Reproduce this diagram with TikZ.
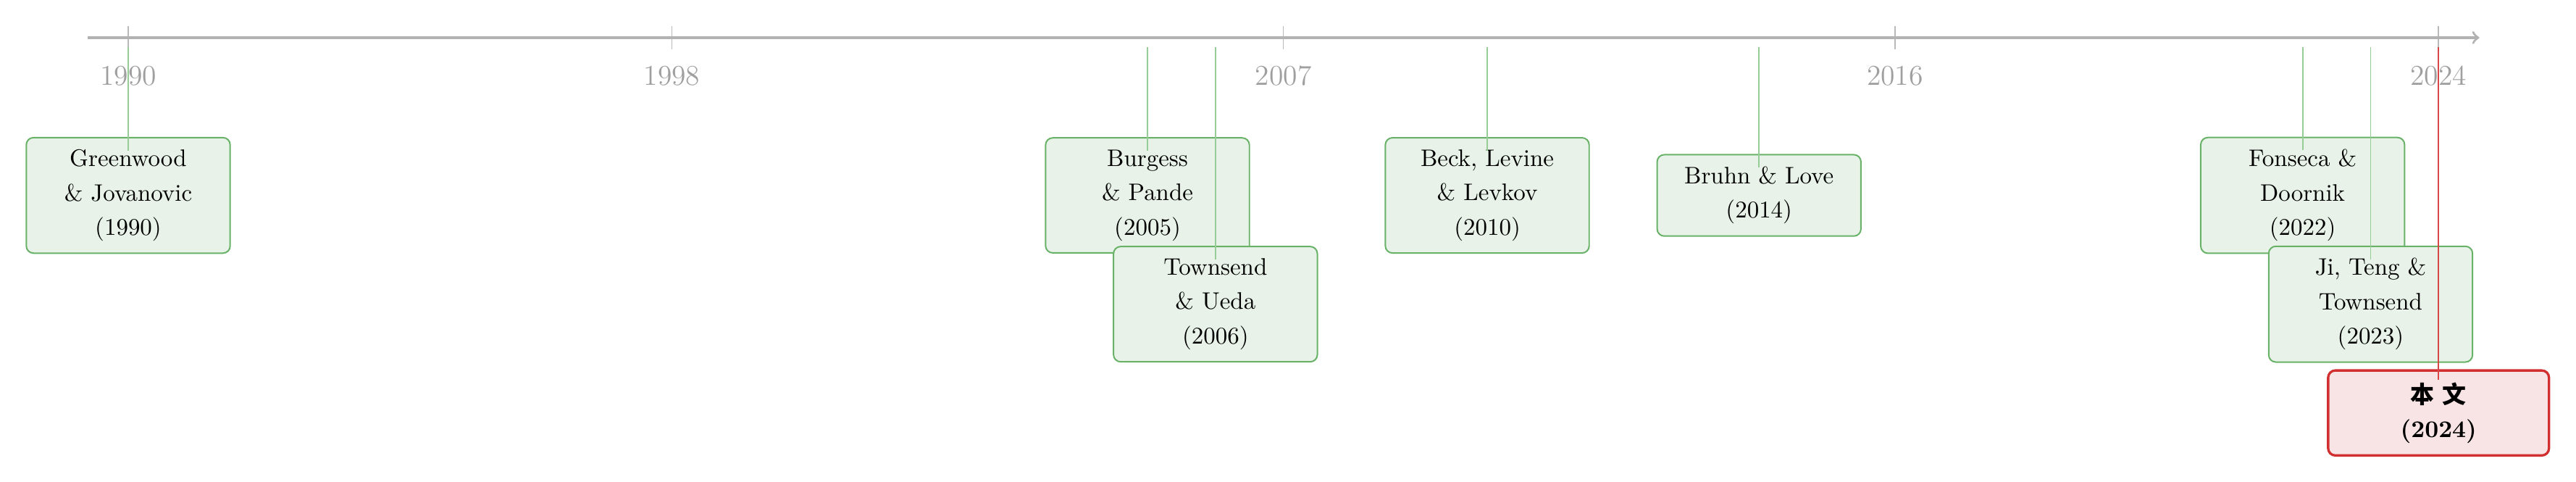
\documentclass[tikz,border=0pt]{standalone}
\usepackage{xcolor}
\usepackage{fontspec}
\newfontfamily\cjk{Noto Sans CJK SC}
\usetikzlibrary{positioning}

\definecolor{paperfill}{RGB}{232,242,232}
\definecolor{paperedge}{RGB}{104,178,104}
\definecolor{paperline}{RGB}{150,204,150}
\definecolor{oursfill}{RGB}{248,228,228}
\definecolor{oursedge}{RGB}{210,48,48}
\definecolor{oursline}{RGB}{216,70,70}

\begin{document}
\begin{tikzpicture}[
    axis/.style={gray!60, line width=1pt, ->},
    tick/.style={gray!55, line width=0.5pt},
    yearlabel/.style={text=gray!75, font=\large},
    paper/.style={draw=paperedge, fill=paperfill, line width=0.6pt, rounded corners=3pt,
      align=center, text width=2.6cm, inner xsep=0.2cm, inner ysep=5pt,
      font=\linespread{1.2}\selectfont},
    ours/.style={paper, draw=oursedge, fill=oursfill, line width=1pt,
      text width=2.85cm, font=\bfseries\linespread{1.2}\selectfont},
    link/.style={paperline, line width=0.5pt},
    ourslink/.style={oursline, line width=0.6pt}
  ]
    \useasboundingbox (-1.887,0.554) rectangle (36.023,-6.525);

    \foreach \yr in {1990,1998,2007,2016,2024} {
      \coordinate (t\yr) at (\yr-1990,0.17);
      \coordinate (b\yr) at (\yr-1990,-0.17);
      \draw[tick] (t\yr) -- (b\yr);
      \node[yearlabel] (y\yr) at (\yr-1990,-0.56) {\yr};
    }
    \coordinate (start) at (-0.6,0);
    \coordinate (end) at (34.6,0);
    \draw[axis] (start) -- (end);

    \node[paper] (p1990) at (0,-2.32) {Greenwood\\ \& Jovanovic\\ (1990)};
    \node[paper] (p2005) at (15,-2.32) {Burgess\\ \& Pande\\ (2005)};
    \node[paper] (p2010) at (20,-2.32) {Beck, Levine\\ \& Levkov\\ (2010)};
    \node[paper] (p2014) at (24,-2.32) {Bruhn \& Love\\ (2014)};
    \node[paper] (p2022) at (32,-2.32) {Fonseca \&\\ Doornik\\ (2022)};
    \node[paper] (p2006) at (16,-3.92) {Townsend\\ \& Ueda\\ (2006)};
    \node[paper] (p2023) at (33,-3.92) {Ji, Teng \&\\ Townsend\\ (2023)};
    \node[ours] (p2024) at (34,-5.52) {{\cjk 本\ 文}\\ (2024)};

    \foreach \yr in {1990,2005,2006,2010,2014,2022,2023} {
      \coordinate (a\yr) at (\yr-1990,-0.14);
      \draw[link] (a\yr) -- ([yshift=-0.2cm]p\yr.north);
    }
    \coordinate (a2024) at (34,-0.14);
    \draw[ourslink] (a2024) -- ([yshift=-0.15cm]p2024.north);
\end{tikzpicture}
\end{document}
